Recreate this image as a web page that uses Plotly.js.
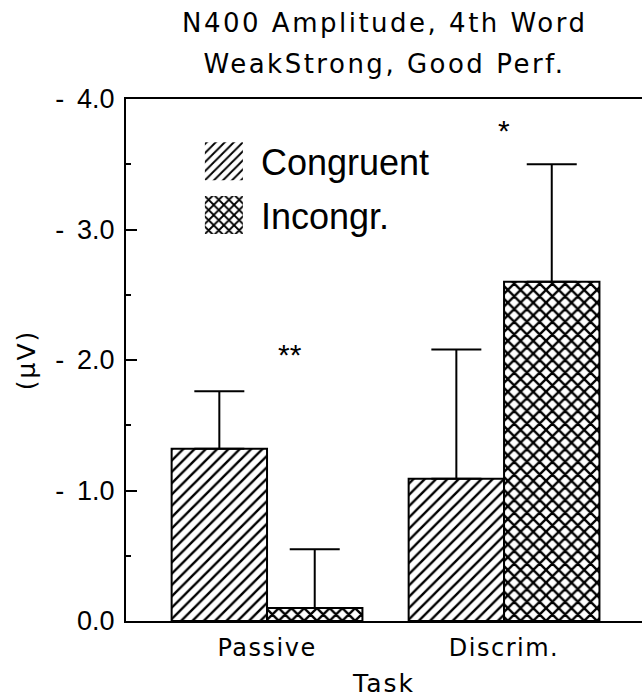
<!DOCTYPE html>
<html>
<head>
<meta charset="utf-8">
<script src="https://cdn.plot.ly/plotly-3.0.1.min.js"></script>
<style>
  body { margin: 0; padding: 0; background: #fff; }
  #chart { width: 642px; height: 698px; }
  .xtick text { letter-spacing: 1.5px; }
  .g-xtitle text, .g-ytitle text { letter-spacing: 2px; }
  .annotation[data-index="0"] text, .annotation[data-index="1"] text { letter-spacing: 2.5px; }
</style>
</head>
<body>
<div id="chart"></div>
<script>
// ---- data ----
const categories = ['Passive', 'Discrim.'];
const congruent = [-1.32, -1.09];
const incongruent = [-0.10, -2.60];
const congruentErr = [0.44, 0.99];
const incongruentErr = [0.45, 0.90];
const noErr = [0, 0];
const yTickVals = [0, -1, -2, -3, -4];
const yTickText = ['0.0', '- \u20091.0', '- \u20092.0', '- \u20093.0', '- \u20094.0'];
const yMinorVals = [-0.5, -1.5, -2.5, -3.5];
const titleLines = ['N400 Amplitude, 4th Word', 'WeakStrong, Good Perf.'];
const sigLabels = ['**', '*'];
const sigY = [-2.04, -3.76];

const plotterFont = 'DejaVu Sans, sans-serif';
const sansFont = 'Liberation Sans, Arial, sans-serif';

const traceCong = {
  type: 'bar', name: 'Congruent', x: categories, y: congruent,
  marker: { color: 'white', line: { color: 'black', width: 2 },
            pattern: { shape: '/', fgcolor: 'black', bgcolor: 'white', size: 8, solidity: 0.3 } },
  error_y: { type: 'data', visible: true, symmetric: false, array: noErr, arrayminus: congruentErr,
             color: 'black', thickness: 2, width: 25 },
  legendgroup: 'a'
};
const traceInc = {
  type: 'bar', name: 'Incongr.', x: categories, y: incongruent,
  marker: { color: 'white', line: { color: 'black', width: 2 },
            pattern: { shape: 'x', fgcolor: 'black', bgcolor: 'white', size: 9, solidity: 0.45 } },
  error_y: { type: 'data', visible: true, symmetric: false, array: noErr, arrayminus: incongruentErr,
             color: 'black', thickness: 2, width: 25 },
  legendgroup: 'b'
};

const annotations = [
  { text: titleLines[0], xref: 'paper', yref: 'paper', x: 0.5, y: 1.1455, yanchor: 'middle', showarrow: false,
    font: { family: plotterFont, size: 26, color: 'black' } },
  { text: titleLines[1], xref: 'paper', yref: 'paper', x: 0.5, y: 1.067, yanchor: 'middle', showarrow: false,
    font: { family: plotterFont, size: 26, color: 'black' } },
  { text: sigLabels[0], xref: 'x', yref: 'y', x: 0.097, y: sigY[0], showarrow: false,
    font: { family: sansFont, size: 30, color: 'black' } },
  { text: sigLabels[1], xref: 'x', yref: 'y', x: 1.0, y: sigY[1], showarrow: false,
    font: { family: sansFont, size: 30, color: 'black' } }
];

const layout = {
  width: 642, height: 698,
  margin: { l: 126, r: 0, t: 99, b: 77, pad: 0 },
  paper_bgcolor: 'white', plot_bgcolor: 'white',
  barmode: 'group', bargap: 0.195, bargroupgap: 0,
  showlegend: true,
  legend: { x: 0.118, y: 0.938, xanchor: 'left', yanchor: 'top', bgcolor: 'rgba(0,0,0,0)',
            font: { family: sansFont, size: 36, color: 'black' }, itemwidth: 64,
            traceorder: 'grouped', tracegroupgap: 4 },
  xaxis: {
    type: 'category', range: [-0.595, 1.582], showline: true, mirror: true, linecolor: 'black', linewidth: 2,
    ticks: '', showgrid: false, zeroline: false,
    tickfont: { family: plotterFont, size: 24, color: 'black' }, ticklabelstandoff: 4,
    title: { text: 'Task', font: { family: plotterFont, size: 25, color: 'black' }, standoff: 16 }
  },
  yaxis: {
    range: [0, -4], showline: true, mirror: false, linecolor: 'black', linewidth: 2,
    tickmode: 'array', tickvals: yTickVals, ticktext: yTickText,
    ticks: 'inside', ticklen: 11, tickwidth: 2, tickcolor: 'black',
    showgrid: false, zeroline: false,
    tickfont: { family: sansFont, size: 27, color: 'black' }, ticklabelstandoff: 4,
    title: { text: '(μV)', font: { family: plotterFont, size: 25, color: 'black' }, standoff: 12 }
  },
  annotations: annotations
};

Plotly.newPlot('chart', [traceCong, traceInc], layout, { displayModeBar: false }).then(function (gd) {
  // enlarge legend swatches and keep a gap before the text
  document.querySelectorAll('.legend .traces').forEach(function (g) {
    var p = g.querySelector('.legendpoints path');
    var t = g.querySelector('text.legendtext');
    if (!p || !t) return;
    p.setAttribute('d', 'M19,19H-19V-19H19Z');
    p.style.strokeWidth = '0px';
    var pr = p.getBoundingClientRect();
    var tr = t.getBoundingClientRect();
    var dx = (tr.left - 18) - pr.right;
    p.setAttribute('d', 'M' + (19 + dx) + ',19H' + (-19 + dx) + 'V-19H' + (19 + dx) + 'Z');
  });
  // re-draw the inside tick marks on the top layer, placed with the axis scale
  var fl = gd._fullLayout;
  var ya = fl.yaxis, xa = fl.xaxis;
  var svgs = gd.querySelectorAll('svg.main-svg');
  var top = svgs[svgs.length - 1];
  var ns = 'http://www.w3.org/2000/svg';
  var g = document.createElementNS(ns, 'g');
  function addTick(v, len) {
    var y = ya._offset + ya.l2p(v);
    var p = document.createElementNS(ns, 'path');
    p.setAttribute('d', 'M' + xa._offset + ',' + y + 'h' + len);
    p.setAttribute('style', 'stroke:black;stroke-width:2px;fill:none;shape-rendering:crispEdges');
    g.appendChild(p);
  }
  yTickVals.forEach(function (v) { if (v !== 0 && v !== -4) addTick(v, 11); });
  yMinorVals.forEach(function (v) { addTick(v, 5); });
  top.appendChild(g);
});
</script>
</body>
</html>
